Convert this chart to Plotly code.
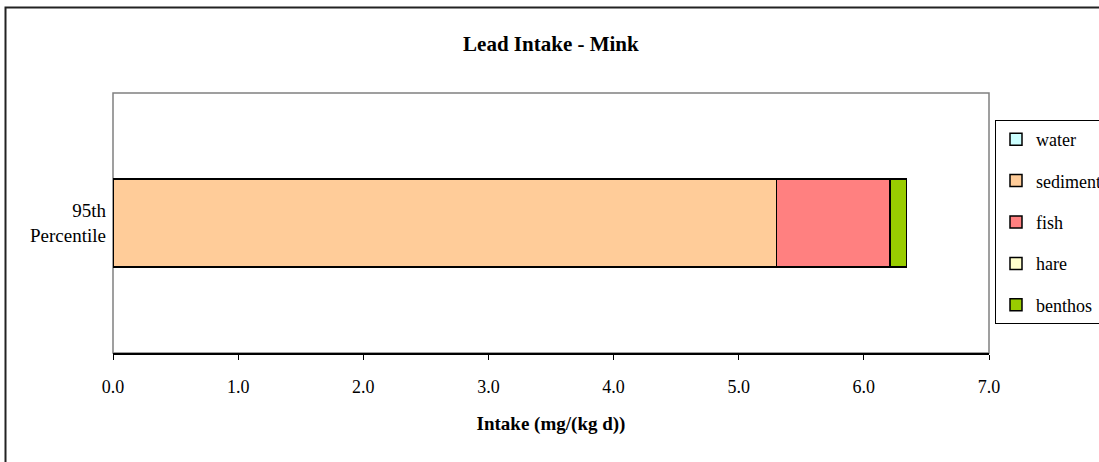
import plotly.graph_objects as go

categories = ["95th<br>Percentile"]
series_names = ["water", "sediment", "fish", "hare", "benthos"]
series_values = [[0.0], [5.30], [0.91], [0.0], [0.13]]
series_colors = ["#CCFFFF", "#FFCC99", "#FF8080", "#FFFFCC", "#99CC00"]
tick_vals = [0, 1, 2, 3, 4, 5, 6, 7]
tick_text = ["0.0", "1.0", "2.0", "3.0", "4.0", "5.0", "6.0", "7.0"]

FONT = "Liberation Serif, Times New Roman, serif"

fig = go.Figure()
for i, (name, vals, col) in enumerate(zip(series_names, series_values, series_colors)):
    fig.add_trace(go.Bar(
        y=categories, x=vals, name=name, orientation="h",
        marker=dict(color=col, line=dict(color="black", width=1.5)),
        width=0.338, legendgroup=name,
    ))

fig.update_layout(
    barmode="stack",
    width=1099, height=462,
    paper_bgcolor="white", plot_bgcolor="white",
    margin=dict(l=113, r=110, t=93, b=109, autoexpand=False),
    font=dict(family=FONT, size=18, color="black"),
    title=dict(text="<b>Lead Intake - Mink</b>", x=0.5013, xanchor="center",
               y=1 - 44 / 462, yanchor="middle",
               font=dict(family=FONT, size=21, color="black")),
    xaxis=dict(range=[0, 7], tickvals=tick_vals, ticktext=tick_text,
               showline=True, linecolor="black", linewidth=1.5,
               ticks="outside", ticklen=5, tickcolor="black", tickwidth=1,
               ticklabelstandoff=12,
               showgrid=False, zeroline=False, automargin=False,
               tickfont=dict(family=FONT, size=18, color="black"),
               title=dict(text="<b>Intake (mg/(kg d))</b>", standoff=20,
                          font=dict(family=FONT, size=19, color="black"))),
    yaxis=dict(range=[-0.5, 0.5], showgrid=False, zeroline=False,
               showline=False, ticks="", ticklabelstandoff=6, automargin=False,
               tickfont=dict(family=FONT, size=19, color="black")),
    legend=dict(x=(995 - 113) / 876, xanchor="left", y=(353 - 120) / 260, yanchor="top",
                bordercolor="black", borderwidth=1, bgcolor="white",
                traceorder="grouped", tracegroupgap=15,
                itemwidth=30,
                font=dict(family=FONT, size=18, color="black")),
    showlegend=True,
)

# plot-area border (grey)
fig.add_shape(type="rect", xref="paper", yref="paper", x0=0, x1=1, y0=0, y1=1,
              line=dict(color="#808080", width=1.5), layer="below")
# outer chart border
fig.add_shape(type="rect", xref="paper", yref="paper",
              x0=(5.5 - 113) / 876, x1=1.3, y0=-0.6, y1=(353 - 7.5) / 260,
              line=dict(color="#222222", width=2), layer="below")

fig.write_html("out.html", config={"displayModeBar": False},
               post_script="document.body.style.margin='0';")
